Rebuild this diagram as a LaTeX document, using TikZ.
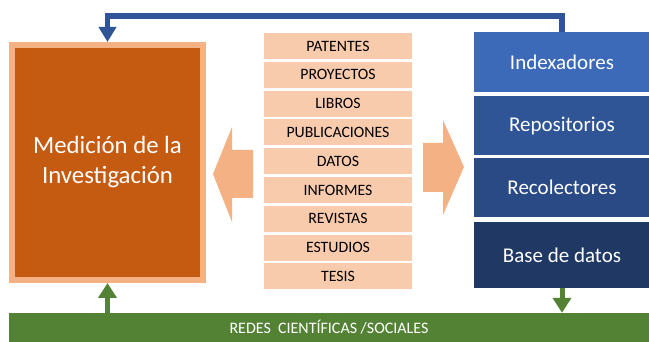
\documentclass[tikz,border=0pt]{standalone}
\usepackage{fontspec}
\setmainfont{Carlito}
\usetikzlibrary{arrows.meta}
\definecolor{naranjaOscuro}{HTML}{C55A11}
\definecolor{naranjaClaro}{HTML}{F4B183}
\definecolor{durazno}{HTML}{F8CBAD}
\definecolor{azulUno}{HTML}{3C69B8}
\definecolor{azulDos}{HTML}{2F5597}
\definecolor{azulTres}{HTML}{2A4A86}
\definecolor{azulCuatro}{HTML}{203864}
\definecolor{verde}{HTML}{548235}
\begin{document}
\begin{tikzpicture}[x=1pt,y=-1pt]
		% Styles
		\tikzstyle{producto}=[fill=durazno,minimum width=148pt,minimum height=26pt,inner sep=0pt,font=\fontsize{15.8}{18}\selectfont]
		\tikzstyle{fuente}=[minimum width=176pt,inner sep=0pt,text=white,font=\fontsize{21}{24}\selectfont]
		\tikzstyle{flecha}=[fill=naranjaClaro]
		\tikzstyle{lienAzul}=[-{Triangle[width=17pt,length=15pt]},draw=azulDos,line width=5.5pt]
		\tikzstyle{lienVerde}=[-{Triangle[width=18pt,length=15pt]},draw=verde,line width=5pt]
		% Dimensions
		\def\DistanceFilas{28.8}
		\def\PrimeraFila{46}
		\def\ColumnaLista{338}
		\def\ColumnaFuentes{562}
		\useasboundingbox (0,0) rectangle (649,342);
		% Noeuds
		\node[fill=naranjaOscuro,draw=naranjaClaro,line width=6pt,minimum width=191pt,minimum height=235pt,text=white,align=center,font=\fontsize{24.8}{30}\selectfont] (medicion) at (107.5,162.5) {Medición de la\\Investigación};
		
		\node[producto] (patentes) at ({\ColumnaLista},{\PrimeraFila+(0)*\DistanceFilas}) {PATENTES};
		\node[producto] (proyectos) at ({\ColumnaLista},{\PrimeraFila+(1)*\DistanceFilas}) {PROYECTOS};
		\node[producto] (libros) at ({\ColumnaLista},{\PrimeraFila+(2)*\DistanceFilas}) {LIBROS};
		\node[producto] (publicaciones) at ({\ColumnaLista},{\PrimeraFila+(3)*\DistanceFilas}) {PUBLICACIONES};
		\node[producto] (datos) at ({\ColumnaLista},{\PrimeraFila+(4)*\DistanceFilas}) {DATOS};
		\node[producto] (informes) at ({\ColumnaLista},{\PrimeraFila+(5)*\DistanceFilas}) {INFORMES};
		\node[producto] (revistas) at ({\ColumnaLista},{\PrimeraFila+(6)*\DistanceFilas}) {REVISTAS};
		\node[producto] (estudios) at ({\ColumnaLista},{\PrimeraFila+(7)*\DistanceFilas}) {ESTUDIOS};
		\node[producto] (tesis) at ({\ColumnaLista},{\PrimeraFila+(8)*\DistanceFilas}) {TESIS};
		
		\node[fuente,fill=azulUno,minimum height=60pt] (indexadores) at ({\ColumnaFuentes},62) {Indexadores};
		\node[fuente,fill=azulDos,minimum height=59pt] (repositorios) at ({\ColumnaFuentes},125.5) {Repositorios};
		\node[fuente,fill=azulTres,minimum height=59pt] (recolectores) at ({\ColumnaFuentes},187.5) {Recolectores};
		\node[fuente,fill=azulCuatro,minimum height=66pt] (base) at ({\ColumnaFuentes},255) {Base de datos};
		
		\node[fill=verde,minimum width=640pt,minimum height=29pt,inner sep=0pt,text=white,font=\fontsize{16}{18}\selectfont] (redes) at (329,327.5) {REDES\ \ CIENTÍFICAS /SOCIALES};
		
		% Flechas
		\fill[flecha] (253,150) -- (232,150) -- (232,127) -- (213,174) -- (232,222) -- (232,198) -- (253,198) -- cycle;
		\fill[flecha] (423,143) -- (443,143) -- (443,120) -- (464,167) -- (443,215) -- (443,192) -- (423,192) -- cycle;
		
		% Arcs
		\draw[lienAzul] (indexadores.north) -- ++(0,-16) -| (medicion.north);
		\draw[lienVerde] (redes.north -| medicion.south) -- (medicion.south);
		\draw[lienVerde] (base.south) -- (redes.north -| base.south);
		
\end{tikzpicture}
\end{document}
